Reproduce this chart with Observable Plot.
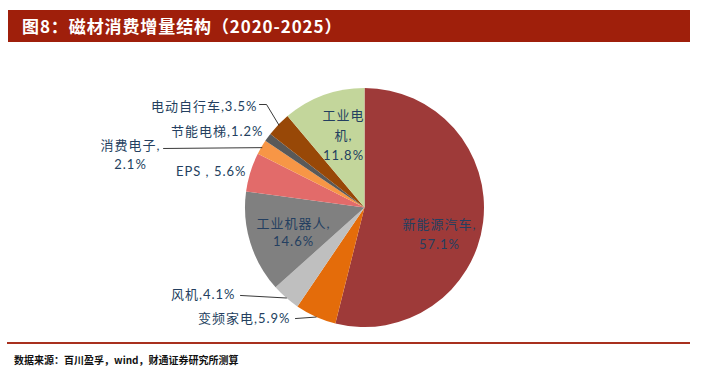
<!DOCTYPE html>
<html><head><meta charset="utf-8">
<script src="https://cdn.jsdelivr.net/npm/d3@7"></script>
<script src="https://cdn.jsdelivr.net/npm/@observablehq/plot@0.6"></script>
<style>
body{margin:0;background:#fff;width:705px;height:375px;overflow:hidden;font-family:"Noto Sans CJK SC",sans-serif;}
#title{position:absolute;left:8px;top:10px;width:682px;height:32px;background:#9F1F0B;color:#fff;font-weight:bold;font-size:17px;line-height:32px;padding-left:14px;box-sizing:border-box;letter-spacing:0.9px;}
#chart{position:absolute;left:0;top:42px;}
#rule{position:absolute;left:7px;top:342px;width:683px;height:2px;background:#A8301E;}
#caption{position:absolute;left:14px;top:352px;font-size:10px;font-weight:bold;line-height:16px;color:#111;}
</style></head><body>
<div id="title">图8：磁材消费增量结构（2020-2025）</div>
<div id="chart"></div>
<div id="rule"></div>
<div id="caption">数据来源：百川盈孚，wind，财通证券研究所测算</div>
<script>
// ---- data ----
const categories = ["新能源汽车","变频家电","风机","工业机器人","EPS","消费电子","节能电梯","电动自行车","工业电机"];
const shares = [57.1, 5.9, 4.1, 14.6, 5.6, 2.1, 1.2, 3.5, 11.8];
const labelNames = ["新能源汽车","变频家电","风机","工业机器人","EPS ","消费电子","节能电梯","电动自行车","工业电\n机"];
const labelSeps = [",\n", ",", ",", ",\n", ", ", ",\n", ",", ",", ",\n"];
const sliceColors = ["#9E3A39","#E46C0A","#BFBFBF","#808080","#E26B6A","#F79646","#595959","#984807","#C3D69B"];

// ---- layout (label anchors in pie-radius units, relative to pie centre) ----
const labelLayout = [
  {u: 0.623, v:-0.209, anchor:"middle", lh:1.5},
  {u:-0.623, v:-0.908, anchor:"end"},
  {u:-1.084, v:-0.707, anchor:"end"},
  {u:-0.598, v:-0.192, anchor:"middle", lh:1.4},
  {u:-0.992, v: 0.322, anchor:"end"},
  {u:-1.962, v: 0.460, anchor:"middle", lh:1.5},
  {u:-0.849, v: 0.657, anchor:"end"},
  {u:-0.900, v: 0.866, anchor:"end"},
  {u:-0.180, v: 0.623, anchor:"middle", lh:1.55}
];
const leaderBends = {
  1: [[-0.582,-0.925]],
  2: [[-1.042,-0.732]],
  5: [[-1.686, 0.498]],
  7: [[-0.824, 0.866],[-0.883, 0.866]]
};

const W = 705, H = 296, CX = 364.5, CY = 165.5, R = 119.5;
const rows = categories.map((c,i)=>({name:c, value:shares[i], i}));
const arcs = d3.pie().sort(null).value(d=>d.value)(rows);
const color = d3.scaleOrdinal(categories, sliceColors);

const labels = rows.map((d,i)=>({
  ...labelLayout[i],
  text: labelNames[i] + labelSeps[i] + d.value.toFixed(1) + "%",
  i
}));

const leaders = [];
for (const k of Object.keys(leaderBends)) {
  const a = arcs[k];
  const mid = (a.startAngle + a.endAngle)/2;
  leaders.push({u: Math.sin(mid), v: Math.cos(mid), g: k});
  for (const [u,v] of leaderBends[k]) leaders.push({u, v, g: k});
}

function pieMark(index, scales) {
  const x0 = scales.x(0), y0 = scales.y(0), r = scales.x(1) - x0;
  const arc = d3.arc().innerRadius(0).outerRadius(r);
  const g = d3.create("svg:g").attr("transform", `translate(${x0},${y0})`);
  g.selectAll("path").data(arcs).join("path")
    .attr("d", arc).attr("fill", d=>color(d.data.name));
  return g.node();
}

const font = "Lato, 'Noto Sans CJK SC', sans-serif";
const textOpts = (anchor) => ({
  x:"u", y:"v", text:"text", textAnchor: anchor, fill:"#243F60",
  fontSize: 13, fontFamily: font, lineAnchor:"middle"
});
const lhGroups = d3.groups(labels, d=>d.anchor + "|" + (d.lh||1.5));

const chart = Plot.plot({
  width: W, height: H,
  margin: 0,
  style: {letterSpacing: "1px"},
  x: {domain: [-CX/R, (W-CX)/R], range: [0, W], axis: null},
  y: {domain: [-(H-CY)/R, CY/R], range: [H, 0], axis: null},
  marks: [
    pieMark,
    Plot.line(leaders, {x:"u", y:"v", z:"g", stroke:"#222", strokeWidth:0.9}),
    ...lhGroups.map(([key, ds]) => {
      const [anchor, lh] = key.split("|");
      return Plot.text(ds, {...textOpts(anchor), lineHeight: +lh});
    })
  ]
});
document.getElementById("chart").appendChild(chart);
</script>
</body></html>
